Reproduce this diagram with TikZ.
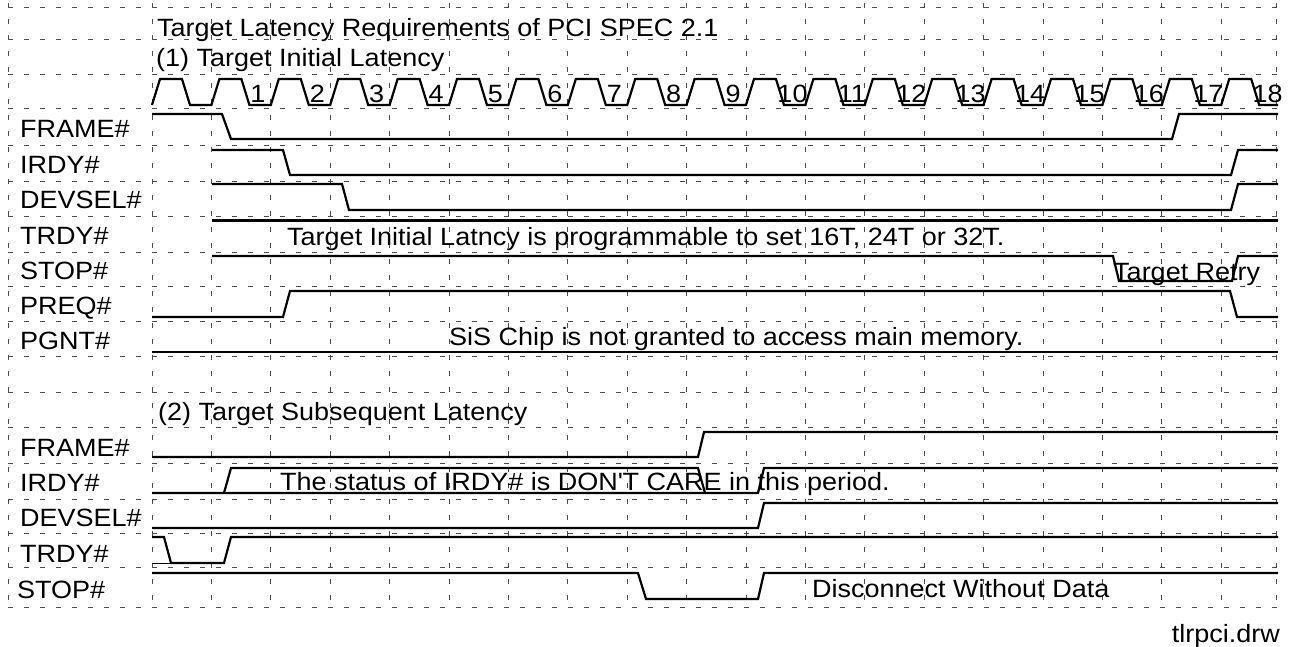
\documentclass[tikz,border=0pt]{standalone}
\usepackage{fontspec}
\setmainfont{Liberation Sans}[FakeStretch=1.08]
\begin{document}
\begin{tikzpicture}[x=1pt,y=-1pt,
  sig/.style={line width=2.2pt, line join=miter, line cap=butt},
  thinsig/.style={line width=0.8pt},
  gridline/.style={line width=0.9pt, black!70, dash pattern=on 5pt off 11pt},
  txt/.style={font=\fontsize{25}{28}\selectfont, inner sep=0pt, anchor=base west},
  num/.style={font=\fontsize{25}{28}\selectfont, inner sep=0pt, anchor=base}]
\useasboundingbox (0,0) rectangle (1293,647);
\fill[white] (0,0) rectangle (1293,647);
% grid
\foreach \y in {7,39.5,74,108.5,145,181.5,216.5,252,286.5,321.5,356.5,392,427,463,499,533,567,607}
  \draw[gridline] (8,\y) -- (1278,\y);
\foreach \x in {8,1276} \draw[gridline] (\x,3) -- (\x,607);
\foreach \k in {0,...,18} \draw[gridline] ({152+59.4*\k},3) -- ({152+59.4*\k},607);
% titles
\node[txt] (title) at (157,36.5) {Target Latency Requirements of PCI SPEC 2.1};
\node[txt] (sec1) at (156,67) {(1) Target Initial Latency};
\node[txt] (sec2) at (158,420) {(2) Target Subsequent Latency};
% clock
\draw[sig] (152,105) \foreach \k in {0,...,18} {
  -- ({152+59.4*\k+8},79) -- ({152+59.4*\k+30},79) -- ({152+59.4*\k+38},105) -- ({min(152+59.4*(\k+1),1278)},105) };
\foreach \k in {1,...,18} \node[num] (clk\k) at ({152+59.4*\k+46.5},103) {\k};
% labels section 1
\node[txt] (lframeA) at (20,138) {FRAME\#};
\node[txt] (lirdyA) at (20,174) {IRDY\#};
\node[txt] (ldevA) at (20,209) {DEVSEL\#};
\node[txt] (ltrdyA) at (20,244.5) {TRDY\#};
\node[txt] (lstopA) at (20,279) {STOP\#};
\node[txt] (lpreqA) at (20,314) {PREQ\#};
\node[txt] (lpgntA) at (20,349) {PGNT\#};
% labels section 2
\node[txt] (lframeB) at (20,456) {FRAME\#};
\node[txt] (lirdyB) at (20,491.5) {IRDY\#};
\node[txt] (ldevB) at (20,526) {DEVSEL\#};
\node[txt] (ltrdyB) at (20,562) {TRDY\#};
\node[txt] (lstopB) at (17,598) {STOP\#};
% waveforms section 1
\draw[sig] (152,114) -- (222,114) -- (231,139) -- (1172,139) -- (1179,114) -- (1278,114);
\draw[sig] (212,150) -- (283,150) -- (290,175) -- (1231,175) -- (1238,150) -- (1278,150);
\draw[sig] (212,184) -- (342,184) -- (349,210) -- (1231,210) -- (1238,184) -- (1278,184);
\draw[sig] (212,220.5) -- (1278,220.5);
\draw[sig] (212,256) -- (1113,256) -- (1119,281) -- (1232,281) -- (1238,256) -- (1278,256);
\draw[sig] (152,317) -- (283,317) -- (290,291) -- (1230,291) -- (1237,317) -- (1278,317);
\draw[sig] (152,352) -- (1278,352);
% waveforms section 2
\draw[sig] (152,457) -- (698,457) -- (704,432) -- (1278,432);
\draw[sig] (152,493) -- (758,493) -- (764,468) -- (1278,468);
\draw[sig] (224,493) -- (231,468) -- (698,468) -- (705,493);
\draw[sig] (152,528) -- (758,528) -- (764,503) -- (1278,503);
\draw[thinsig] (152,563) -- (171,563);
\draw[sig] (152,537) -- (164,537) -- (171,563) -- (224,563) -- (231,537) -- (1278,537);
\draw[sig] (152,573) -- (638,573) -- (646,599) -- (758,599) -- (764,573) -- (1278,573);
% annotations
\node[txt] (ntrdy) at (287,245) {Target Initial Latncy is programmable to set 16T, 24T or 32T.};
\node[txt] (nretry) at (1113,280) {Target Retry};
\node[txt] (npgnt) at (449,345) {SiS Chip is not granted to access main memory.};
\node[txt] (nirdy) at (280,490) {The status of IRDY\# is DON\textquotesingle T CARE in this period.};
\node[txt] (nstop) at (812,597) {Disconnect Without Data};
\node[txt, anchor=base east] (fname) at (1280,642) {tlrpci.drw};
\end{tikzpicture}
\end{document}
